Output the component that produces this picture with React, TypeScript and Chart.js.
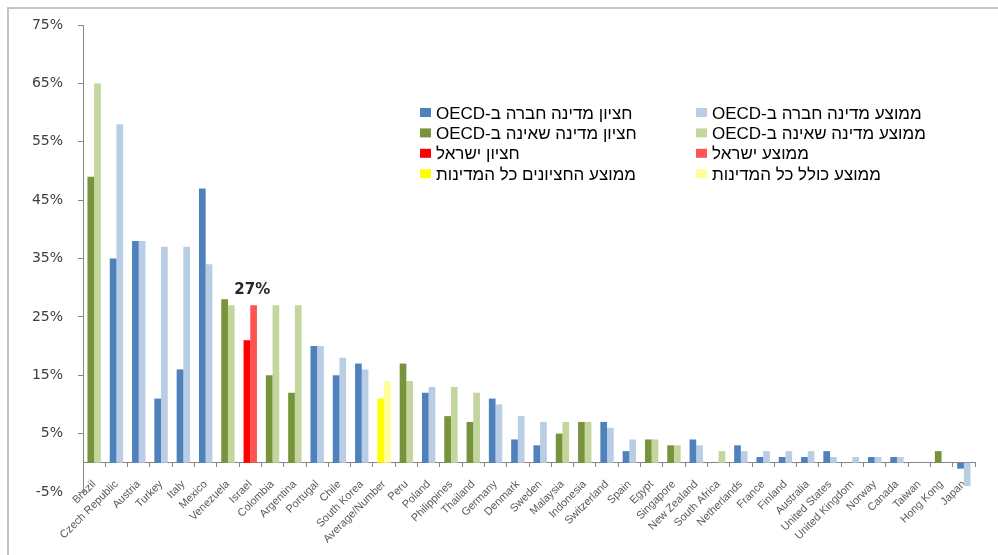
import React, { useEffect, useRef } from 'react';
import { Chart, registerables } from 'chart.js';

Chart.register(...registerables);

const categories = [
  'Brazil', 'Czech Republic', 'Austria', 'Turkey', 'Italy', 'Mexico', 'Venezuela', 'Israel',
  'Colombia', 'Argentina', 'Portugal', 'Chile', 'South Korea', 'Average/Number', 'Peru', 'Poland',
  'Philippines', 'Thailand', 'Germany', 'Denmark', 'Sweden', 'Malaysia', 'Indonesia', 'Switzerland',
  'Spain', 'Egypt', 'Singapore', 'New Zealand', 'South Africa', 'Netherlands', 'France', 'Finland',
  'Australia', 'United States', 'United Kingdom', 'Norway', 'Canada', 'Taiwan', 'Hong Kong', 'Japan',
];

// median (חציון) per country, in %
const medianValues: (number | null)[] = [
  49, 35, 38, 11, 16, 47, 28, 21,
  15, 12, 20, 15, 17, 11, 17, 12,
  8, 7, 11, 4, 3, 5, 7, 7,
  2, 4, 3, 4, null, 3, 1, 1,
  1, 2, null, 1, 1, null, 2, -1,
];

// average (ממוצע) per country, in %
const averageValues: (number | null)[] = [
  65, 58, 38, 37, 37, 34, 27, 27,
  27, 27, 20, 18, 16, 14, 14, 13,
  13, 12, 10, 8, 7, 7, 7, 6,
  4, 4, 3, 3, 2, 2, 2, 2,
  2, 1, 1, 1, 1, null, null, -4,
];

// 0 = OECD member, 1 = non-OECD, 2 = Israel, 3 = all countries
const groupOf = [
  1, 0, 0, 0, 0, 0, 1, 2,
  1, 1, 0, 0, 0, 3, 1, 0,
  1, 1, 0, 0, 0, 1, 1, 0,
  0, 1, 1, 0, 1, 0, 0, 0,
  0, 0, 0, 0, 0, 1, 1, 0,
];

const medianLabels = [
  'חציון מדינה חברה ב-OECD',
  'חציון מדינה שאינה ב-OECD',
  'חציון ישראל',
  'ממוצע החציונים כל המדינות',
];
const averageLabels = [
  'ממוצע מדינה חברה ב-OECD',
  'ממוצע מדינה שאינה ב-OECD',
  'ממוצע ישראל',
  'ממוצע כולל כל המדינות',
];

const yTicks = [-5, 5, 15, 25, 35, 45, 55, 65, 75];
const highlightText = '27%';
const highlightCategory = 'Israel';
const highlightValue = 27;

const medianColors = ['#4F81BD', '#77933C', '#FF0000', '#FFFF00'];
const averageColors = ['#B9CDE5', '#C3D69B', '#FF5252', '#FFFF99'];

const overlayPlugin = {
  id: 'overlay',
  beforeDraw(chart: any) {
    const ctx = chart.ctx;
    ctx.save();
    ctx.strokeStyle = '#c4c4c4';
    ctx.lineWidth = 2;
    ctx.beginPath();
    ctx.moveTo(8, chart.height);
    ctx.lineTo(8, 8);
    ctx.lineTo(chart.width, 8);
    ctx.stroke();
    ctx.restore();
  },
  afterDraw(chart: any) {
    const ctx = chart.ctx;
    ctx.save();
    // legend
    ctx.font = '17px "Liberation Sans"';
    ctx.textBaseline = 'middle';
    ctx.fillStyle = '#000';
    (ctx as any).direction = 'rtl';
    ctx.textAlign = 'left';
    for (let i = 0; i < 4; i++) {
      const y = 113 + i * 20.4;
      ctx.fillStyle = medianColors[i];
      ctx.fillRect(420, y - 5, 11, 9);
      ctx.fillStyle = averageColors[i];
      ctx.fillRect(696, y - 5, 11, 9);
      ctx.fillStyle = '#000';
      ctx.fillText(medianLabels[i], 436, y + 1);
      ctx.fillText(averageLabels[i], 712, y + 1);
    }
    (ctx as any).direction = 'ltr';
    // highlight
    const xs = chart.scales.x;
    const ys = chart.scales.y;
    const idx = categories.indexOf(highlightCategory);
    ctx.font = 'bold 15px "DejaVu Sans"';
    ctx.fillStyle = '#262626';
    ctx.textAlign = 'center';
    ctx.fillText(highlightText, xs.getPixelForValue(idx) + 2, ys.getPixelForValue(highlightValue) - 15);
    ctx.restore();
  },
};

export default function App() {
  const ref = useRef<HTMLCanvasElement | null>(null);
  useEffect(() => {
    if (!ref.current) return;
    const datasets: any[] = [];
    for (let g = 0; g < 4; g++) {
      datasets.push({
        label: medianLabels[g],
        data: medianValues.map((v, i) => (groupOf[i] === g ? v : null)),
        backgroundColor: medianColors[g],
        stack: 'median',
      });
      datasets.push({
        label: averageLabels[g],
        data: averageValues.map((v, i) => (groupOf[i] === g ? v : null)),
        backgroundColor: averageColors[g],
        stack: 'average',
      });
    }
    const chart = new Chart(ref.current, {
      type: 'bar',
      data: { labels: categories, datasets },
      options: {
        animation: false,
        responsive: true,
        maintainAspectRatio: false,
        datasets: { bar: { categoryPercentage: 0.6, barPercentage: 1.0 } },
        layout: { padding: { left: 0, right: 23, top: 25, bottom: 63 } },
        plugins: { legend: { display: false }, tooltip: { enabled: false } },
        scales: {
          x: {
            stacked: true,
            position: { y: 0 } as any,
            grid: { offset: true, drawOnChartArea: false, drawTicks: true, tickLength: 4, color: '#868686' },
            border: { display: true, color: '#868686', width: 1 },
            ticks: {
              autoSkip: false,
              minRotation: 45,
              maxRotation: 45,
              padding: 11,
              color: '#595959',
              font: { family: '"Liberation Sans"', size: 11 },
            },
            afterFit(scale: any) {
              scale.height = 0;
              scale.paddingLeft = 0;
              scale.paddingRight = 0;
            },
          },
          y: {
            stacked: true,
            min: -5,
            max: 75,
            afterBuildTicks(scale: any) {
              scale.ticks = yTicks.map((v) => ({ value: v }));
            },
            grid: { drawOnChartArea: false, drawTicks: true, tickLength: 5, color: '#868686' },
            border: { display: true, color: '#868686', width: 1 },
            ticks: {
              padding: 15,
              color: '#404040',
              font: { family: '"DejaVu Sans"', size: 14 },
              callback: (v: any) => v + '%',
            },
            afterFit(scale: any) {
              scale.width = 83;
              scale.paddingTop = 0;
              scale.paddingBottom = 0;
            },
          },
        },
      },
      plugins: [overlayPlugin],
    });
    return () => chart.destroy();
  }, []);
  return (
    <div style={{ position: 'fixed', left: 0, top: 0, width: 998, height: 555, background: '#fff' }}>
      <canvas ref={ref} />
    </div>
  );
}
